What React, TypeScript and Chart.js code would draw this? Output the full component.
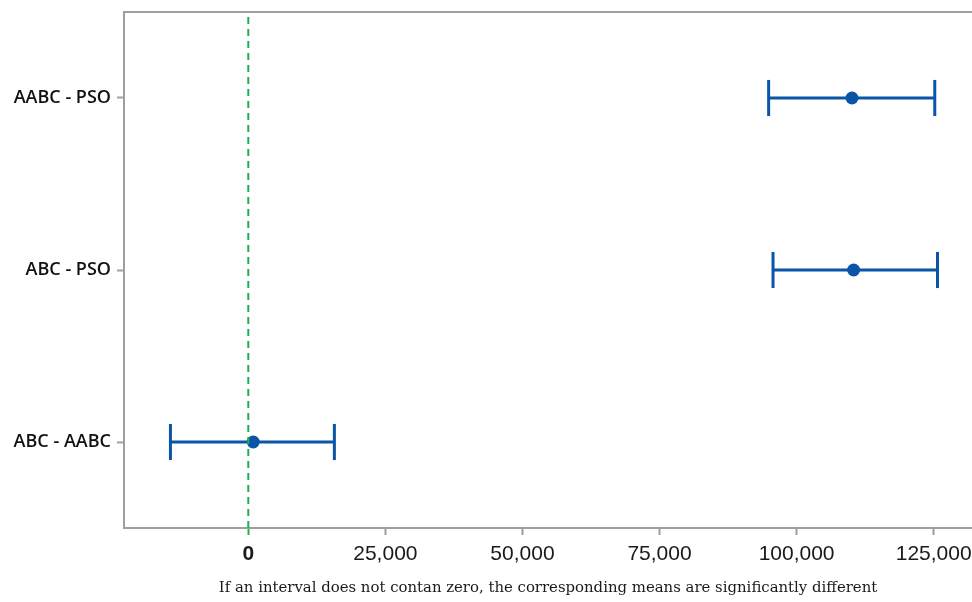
import React, { useEffect, useRef } from "react";
import { Chart, registerables } from "chart.js";

Chart.register(...registerables);

const comparisons = ["ABC - AABC", "ABC - PSO", "AABC - PSO"];
const lowerBounds = [-14200, 95700, 94900];
const means = [900, 110400, 110100];
const upperBounds = [15700, 125700, 125200];
const xTicks = [0, 25000, 50000, 75000, 100000, 125000];
const footnote =
  "If an interval does not contan zero, the corresponding means are significantly different";

const BLUE = "#0a55a6";
const GREEN = "#1fb04c";
const AXIS = "#9f9f9f";

export default function App() {
  const ref = useRef<HTMLCanvasElement | null>(null);

  useEffect(() => {
    if (!ref.current) return;
    const capHalf = 0.105;
    const datasets: any[] = [];

    // zero reference line
    datasets.push({
      data: [
        { x: 0, y: 0.5 },
        { x: 0, y: 3.5 },
      ],
      borderColor: GREEN,
      borderWidth: 2,
      borderDash: [7, 5],
      pointRadius: 0,
      showLine: true,
    });

    comparisons.forEach((_, i) => {
      const y = i + 1;
      datasets.push({
        data: [
          { x: lowerBounds[i], y },
          { x: upperBounds[i], y },
        ],
        borderColor: BLUE,
        borderWidth: 3,
        pointRadius: 0,
        showLine: true,
      });
      datasets.push({
        data: [
          { x: lowerBounds[i], y: y - capHalf },
          { x: lowerBounds[i], y: y + capHalf },
        ],
        borderColor: BLUE,
        borderWidth: 3,
        pointRadius: 0,
        showLine: true,
      });
      datasets.push({
        data: [
          { x: upperBounds[i], y: y - capHalf },
          { x: upperBounds[i], y: y + capHalf },
        ],
        borderColor: BLUE,
        borderWidth: 3,
        pointRadius: 0,
        showLine: true,
      });
    });

    datasets.push({
      data: means.map((m, i) => ({ x: m, y: i + 1 })),
      showLine: false,
      pointRadius: 6.5,
      pointBackgroundColor: BLUE,
      pointBorderColor: BLUE,
      pointBorderWidth: 0,
    });

    const chart = new Chart(ref.current, {
      type: "scatter",
      data: { datasets },
      options: {
        animation: false,
        responsive: false,
        maintainAspectRatio: false,
        layout: {
          autoPadding: false,
          padding: { top: 12, left: 0, right: 0, bottom: 0 },
        },
        plugins: {
          legend: { display: false },
          tooltip: { enabled: false },
        },
        scales: {
          x: {
            type: "linear",
            min: -22670,
            max: 131990,
            afterBuildTicks: (s: any) => {
              s.ticks = xTicks.map((v) => ({ value: v }));
            },
            afterFit: (s: any) => {
              s.height = 74;
              s.paddingLeft = 0;
              s.paddingRight = 0;
            },
            grid: {
              drawOnChartArea: false,
              drawTicks: true,
              tickLength: 7,
              tickWidth: 2,
              tickColor: (ctx: any) =>
                ctx.tick && ctx.tick.value === 0 ? GREEN : AXIS,
            },
            border: { display: true, color: AXIS, width: 2 },
            ticks: {
              padding: 7,
              color: "#1a1a1a",
              maxRotation: 0,
              font: (ctx: any) => ({
                family: "'Liberation Sans', Arial, sans-serif",
                size: 21,
                weight: ctx.tick && ctx.tick.value === 0 ? "bold" : "normal",
              }),
              callback: (v: any) => Number(v).toLocaleString("en-US"),
            },
            title: {
              display: true,
              text: footnote,
              color: "#1a1a1a",
              font: { family: "'DejaVu Serif', serif", size: 14.9 },
              padding: { top: 4, bottom: 5 },
            },
          },
          x2: {
            type: "linear",
            position: "top",
            min: -22670,
            max: 131990,
            afterFit: (s: any) => {
              s.height = 0;
              s.paddingLeft = 0;
              s.paddingRight = 0;
            },
            grid: { display: false, drawTicks: false },
            border: { display: true, color: AXIS, width: 2 },
            ticks: { display: false },
          },
          y: {
            type: "linear",
            min: 0.5,
            max: 3.5,
            afterBuildTicks: (s: any) => {
              s.ticks = comparisons.map((_, i) => ({ value: i + 1 }));
            },
            afterFit: (s: any) => {
              s.width = 124;
              s.paddingTop = 0;
              s.paddingBottom = 0;
            },
            grid: {
              drawOnChartArea: false,
              drawTicks: true,
              tickLength: 7,
              tickWidth: 2,
              tickColor: AXIS,
            },
            border: { display: true, color: AXIS, width: 2 },
            ticks: {
              padding: 6,
              color: "#111",
              font: { family: "'Open Sans', sans-serif", size: 18, weight: 600 },
              callback: (v: any) => comparisons[Number(v) - 1] ?? "",
            },
          },
        },
      },
    });
    return () => chart.destroy();
  }, []);

  return (
    <div
      style={{
        position: "fixed",
        left: 0,
        top: 0,
        width: 972,
        height: 602,
        background: "#fff",
      }}
    >
      <canvas ref={ref} width={972} height={602} />
    </div>
  );
}
